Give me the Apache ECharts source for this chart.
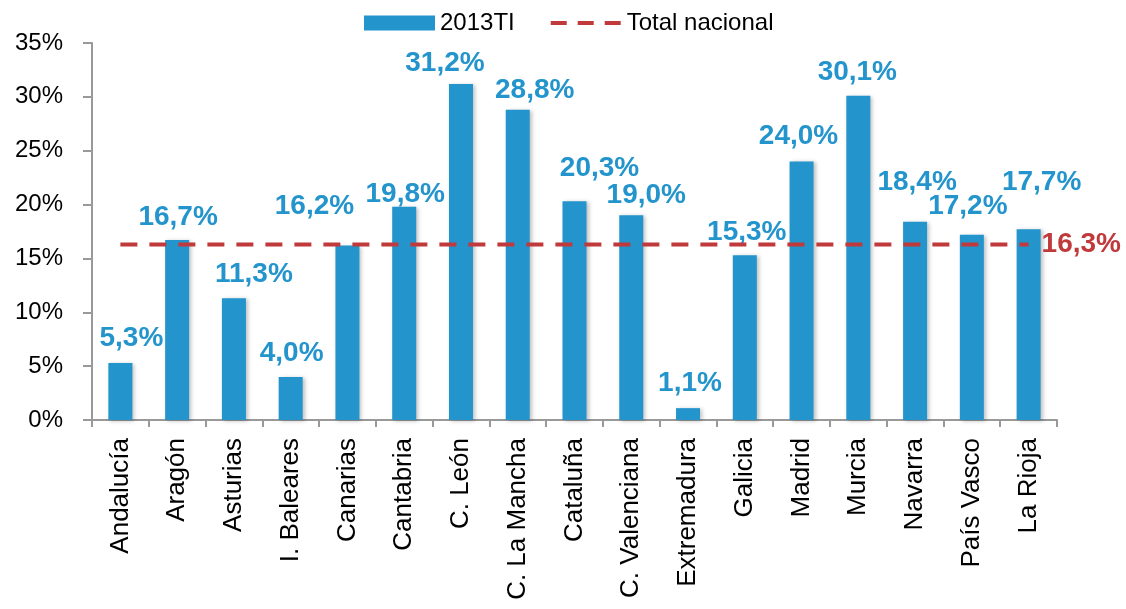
<!DOCTYPE html>
<html>
<head>
<meta charset="utf-8">
<script src="https://cdn.jsdelivr.net/npm/echarts@6/dist/echarts.min.js"></script>
<style>
  html, body { margin: 0; padding: 0; background: #fff; }
  #chart { width: 1126px; height: 609px; }
</style>
</head>
<body>
<div id="chart"></div>
<script>
// datos
const categorias = ['Andalucía', 'Aragón', 'Asturias', 'I. Baleares', 'Canarias', 'Cantabria', 'C. León',
  'C. La Mancha', 'Cataluña', 'C. Valenciana', 'Extremadura', 'Galicia', 'Madrid', 'Murcia', 'Navarra',
  'País Vasco', 'La Rioja']
const valores2013TI = [5.3, 16.7, 11.3, 4.0, 16.2, 19.8, 31.2, 28.8, 20.3, 19.0, 1.1, 15.3, 24.0, 30.1, 18.4, 17.2, 17.7]
const totalNacional = 16.3
const ticksY = [0, 5, 10, 15, 20, 25, 30, 35]

// desplazamiento de etiquetas (como en el original, movidas a mano)
const etiquetaDx = [11, 1, 20, 1, -33, 1, -16, 17, 25, 15, 2, 2, -3, -1, 2, -4, 13]
const etiquetaSubida = [27, 25, 26, 26, 41, 14, 23, 22, 35, 22, 27, 25, 27, 25, 42, 30, 49]

const fmt = v => v.toFixed(1).replace('.', ',') + '%'
const azul = '#2394cc'
const rojo = '#c0393b'
const tamEtiqueta = 28

const chart = echarts.init(document.getElementById('chart'))

const option = {
  animation: false,
  textStyle: { fontFamily: 'Liberation Sans, Arial, sans-serif' },
  legend: {
    top: 6,
    left: 359,
    itemGap: 34,
    itemWidth: 71,
    itemHeight: 15,
    textStyle: { fontSize: 24, color: '#000' },
    data: [
      { name: '2013TI', icon: 'rect' },
      { name: 'Total nacional', itemStyle: { opacity: 0 }, lineStyle: { width: 4, type: [16, 11] } }
    ]
  },
  grid: { left: 92, right: 69, top: 43, bottom: 189 },
  xAxis: {
    type: 'category',
    data: categorias,
    axisLine: { lineStyle: { color: '#999', width: 2 } },
    axisTick: { show: true, length: 7, lineStyle: { color: '#999', width: 2 } },
    axisLabel: { rotate: 90, fontSize: 26, color: '#000', margin: 18 }
  },
  yAxis: {
    type: 'value',
    min: 0,
    max: 35,
    interval: 5,
    axisLine: { show: true, lineStyle: { color: '#999', width: 2 } },
    axisTick: { show: true, length: 9, lineStyle: { color: '#999', width: 2 } },
    splitLine: { show: false },
    axisLabel: {
      fontSize: 24, color: '#000', margin: 29,
      formatter: v => ticksY.includes(v) ? v + '%' : ''
    }
  },
  series: [
    {
      name: '2013TI',
      type: 'bar',
      barWidth: 24,
      itemStyle: {
        color: azul,
        shadowColor: 'rgba(0,0,0,0.25)',
        shadowBlur: 4,
        shadowOffsetX: 2,
        shadowOffsetY: 1
      },
      data: valores2013TI.map((v, i) => ({
        value: v,
        label: {
          show: true,
          position: 'top',
          distance: 0,
          offset: [etiquetaDx[i], -(etiquetaSubida[i] - tamEtiqueta / 2 - 2)],
          formatter: fmt(v),
          fontSize: tamEtiqueta,
          fontWeight: 'bold',
          color: azul
        }
      }))
    },
    {
      name: 'Total nacional',
      type: 'line',
      symbol: 'none',
      z: 5,
      lineStyle: { color: rojo, width: 4, type: [17, 12] },
      itemStyle: { color: rojo },
      endLabel: {
        show: true,
        distance: 13,
        formatter: fmt(totalNacional),
        fontSize: tamEtiqueta,
        fontWeight: 'bold',
        color: rojo
      },
      data: categorias.map(() => totalNacional)
    }
  ]
}

chart.setOption(option)
</script>
</body>
</html>
